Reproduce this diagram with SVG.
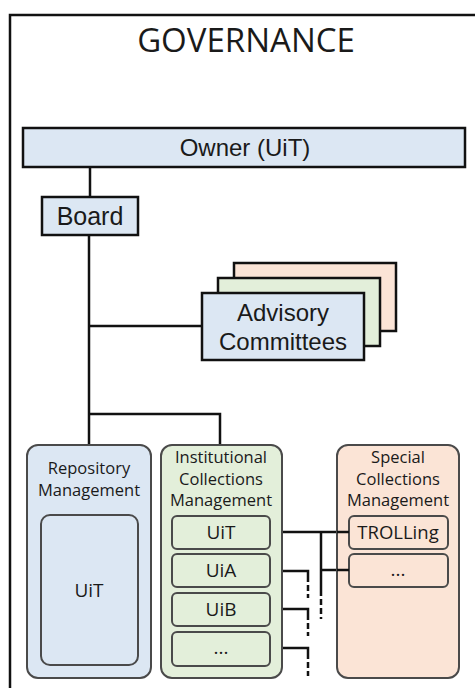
<svg xmlns="http://www.w3.org/2000/svg" width="475" height="688" viewBox="0 0 475 688">
<style>
.frame{fill:none;stroke:#111;stroke-width:2.5}
.sq{stroke:#111;stroke-width:2.5}
.rd{stroke:#4a4a4a;stroke-width:2}
.blue{fill:#dce7f3}
.green{fill:#e3efda}
.peach{fill:#fbe4d6}
.ln{fill:none;stroke:#111;stroke-width:2.5}
.dash{fill:none;stroke:#111;stroke-width:2.5;stroke-dasharray:6 3}
.ar{font-family:"Liberation Sans",Arial,sans-serif;fill:#1a1a1a;text-anchor:middle}
.ca{font-family:"Open Sans","Noto Sans",sans-serif;fill:#1a1a1a;text-anchor:middle}
</style>
<rect width="475" height="688" fill="#fff"/>
<path class="frame" d="M10,690 V15 H477"/>
<text class="ca" x="246" y="52" font-size="33">GOVERNANCE</text>
<g id="connectors">
<path class="ln" d="M90,167 V197"/>
<path class="ln" d="M89,235 V445"/>
<path class="ln" d="M89,326 H202"/>
<path class="ln" d="M89,414 H220 V445"/>
<path class="ln" d="M270,532 H349"/>
<path class="ln" d="M321,532 V590"/>
<path class="dash" d="M321,590 V619"/>
<path class="ln" d="M321,570 H349"/>
<path class="ln" d="M270,571 H308 V576"/>
<path class="dash" d="M308,576 V598"/>
<path class="ln" d="M270,609 H308 V614"/>
<path class="dash" d="M308,614 V636"/>
<path class="ln" d="M270,648 H308 V653"/>
<path class="dash" d="M308,653 V676"/>
</g>
<g id="owner">
<rect class="sq blue" x="23" y="128" width="442" height="39"/>
<text class="ar" x="245" y="156" font-size="24">Owner (UiT)</text>
</g>
<g id="board">
<rect class="sq blue" x="42" y="197" width="96" height="38"/>
<text class="ar" x="90" y="225" font-size="25">Board</text>
</g>
<g id="advisory">
<rect class="sq peach" x="234" y="263" width="162" height="68"/>
<rect class="sq green" x="218" y="278" width="162" height="68"/>
<rect class="sq blue" x="202" y="293" width="162" height="67"/>
<text class="ar" x="283" y="321" font-size="24">Advisory</text>
<text class="ar" x="283" y="350" font-size="24">Committees</text>
</g>
<g id="repository">
<rect class="rd blue" x="27" y="445" width="124" height="233" rx="11"/>
<text class="ca" x="89" y="474" font-size="16.5">Repository</text>
<text class="ca" x="89" y="496" font-size="16.5">Management</text>
<rect class="rd blue" x="41" y="515" width="97" height="150" rx="9"/>
<text class="ca" x="89" y="597" font-size="19">UiT</text>
</g>
<g id="institutional">
<rect class="rd green" x="161" y="445" width="121" height="233" rx="11"/>
<text class="ca" x="221" y="463" font-size="16.5">Institutional</text>
<text class="ca" x="221" y="485" font-size="16.5">Collections</text>
<text class="ca" x="221" y="506" font-size="16.5">Management</text>
<rect class="rd green" x="172" y="516" width="98" height="33" rx="5"/>
<text class="ca" x="221" y="539" font-size="19">UiT</text>
<rect class="rd green" x="172" y="554" width="98" height="33" rx="5"/>
<text class="ca" x="221" y="577" font-size="19">UiA</text>
<rect class="rd green" x="172" y="593" width="98" height="33" rx="5"/>
<text class="ca" x="221" y="616" font-size="19">UiB</text>
<rect class="rd green" x="172" y="632" width="98" height="34" rx="5"/>
<text class="ca" x="221" y="654" font-size="19">...</text>
</g>
<g id="special">
<rect class="rd peach" x="337" y="445" width="122" height="233" rx="11"/>
<text class="ca" x="398" y="463" font-size="16.5">Special</text>
<text class="ca" x="398" y="485" font-size="16.5">Collections</text>
<text class="ca" x="398" y="506" font-size="16.5">Management</text>
<rect class="rd peach" x="349" y="516" width="99" height="33" rx="5"/>
<text class="ca" x="398" y="539" font-size="18.5">TROLLing</text>
<rect class="rd peach" x="349" y="554" width="99" height="33" rx="5"/>
<text class="ca" x="398" y="576" font-size="19">...</text>
</g>
<path class="ln" d="M337,532 H349"/>
<path class="ln" d="M337,570 H349"/>
</svg>
